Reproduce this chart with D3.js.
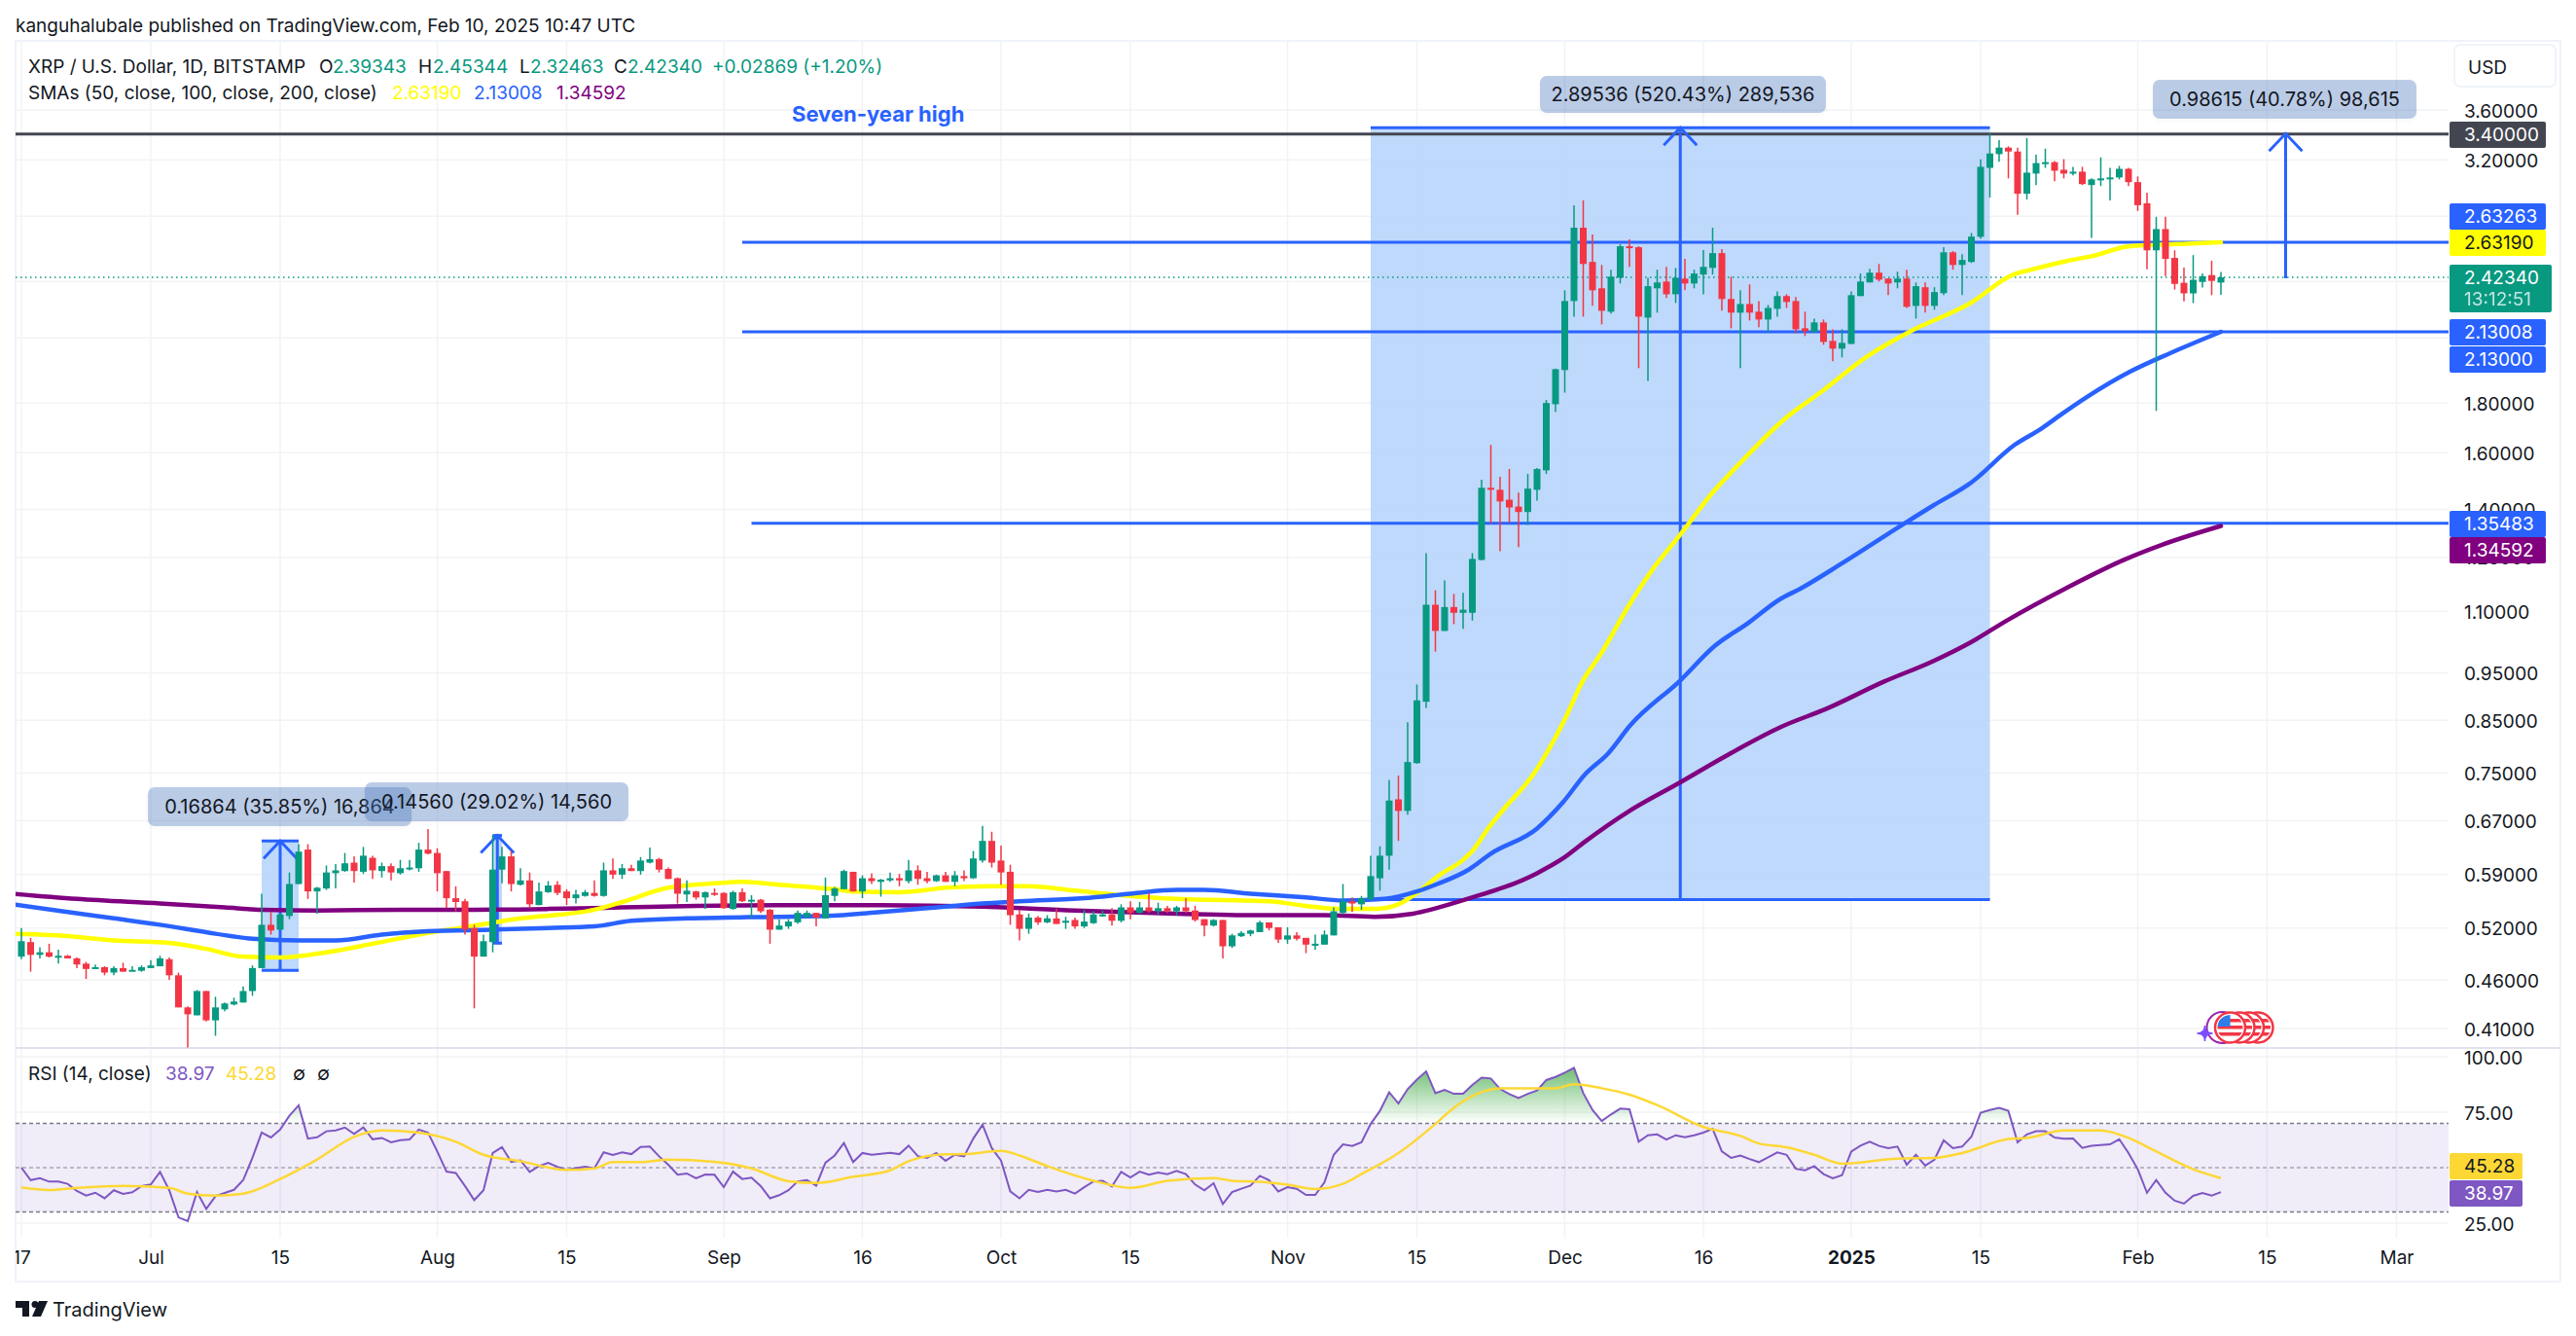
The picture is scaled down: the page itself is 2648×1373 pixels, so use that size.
<!DOCTYPE html>
<html lang="en">
<head>
    <meta charset="UTF-8">
    <title>XRP / U.S. Dollar, 1D, BITSTAMP</title>
    <script src="https://d3js.org/d3.v7.min.js"></script>
    <style>
        html, body { margin: 0; padding: 0; background: #fff; }
        svg { display: block; }
        text { font-family: Inter, "Noto Sans", sans-serif; fill: #131722; }
        .axis text { font-size: 19px; }
        .axis .domain { display: none; }
    </style>
</head>
<body>
<script>
    // candles, one per day from Jun 17 2024
    var firstDay = new Date(Date.UTC(2024, 5, 17));
    var opens = [
        .486,.503,.488,.491,.486,.487,.484,.478,.472,.474,
        .468,.473,.470,.470,.473,.475,.483,.465,.431,.423,
        .448,.418,.429,.434,.436,.448,.473,.524,.518,.535,
        .577,.626,.567,.571,.592,.595,.607,.594,.614,.595,
        .602,.592,.598,.599,.626,.621,.595,.558,.554,.520,
        .486,.503,.597,.616,.576,.582,.549,.566,.576,.567,
        .558,.561,.565,.561,.596,.590,.599,.595,.607,.612,
        .598,.585,.563,.567,.559,.565,.565,.544,.566,.556,
        .556,.543,.518,.522,.527,.534,.539,.532,.561,.570,
        .594,.567,.585,.580,.582,.585,.581,.596,.585,.581,
        .589,.580,.588,.585,.610,.639,.610,.594,.537,.519,
        .533,.527,.532,.527,.530,.522,.526,.536,.537,.529,
        .546,.539,.546,.541,.545,.541,.546,.542,.531,.523,
        .530,.498,.510,.513,.515,.527,.521,.506,.511,.508,
        .500,.500,.511,.539,.554,.550,.557,.585,.617,.705,
        .686,.768,.888,1.117,1.050,1.111,1.096,1.096,1.242,1.473,
        1.466,1.432,1.409,1.391,1.466,1.535,1.795,1.946,2.291,2.725,
        2.513,2.361,2.234,2.421,2.608,2.602,2.203,2.361,2.399,2.328,
        2.416,2.388,2.439,2.478,2.566,2.302,2.229,2.275,2.234,2.193,
        2.249,2.318,2.291,2.148,2.130,2.178,2.085,2.047,2.070,2.318,
        2.394,2.450,2.416,2.394,2.416,2.265,2.367,2.265,2.334,2.571,
        2.495,2.513,2.667,3.139,3.243,3.293,3.263,2.953,3.097,3.175,
        3.182,3.125,3.097,3.111,3.014,3.058,3.055,3.069,3.132,3.035,
        2.887,2.583,2.716,2.537,2.392,2.333,2.397,2.436,2.39343];
    var highs = [
        .520,.508,.497,.501,.494,.488,.485,.480,.477,.475,
        .475,.479,.475,.476,.482,.487,.485,.468,.432,.449,
        .448,.442,.436,.441,.453,.476,.564,.540,.538,.593,
        .634,.634,.573,.603,.605,.621,.616,.630,.617,.607,
        .606,.611,.611,.636,.657,.628,.595,.574,.557,.524,
        .512,.648,.630,.624,.599,.593,.579,.581,.581,.570,
        .569,.569,.582,.607,.613,.605,.604,.615,.629,.614,
        .600,.586,.582,.568,.567,.571,.566,.568,.571,.562,
        .557,.544,.531,.531,.542,.542,.539,.586,.573,.597,
        .594,.589,.592,.584,.593,.591,.611,.603,.594,.590,
        .594,.595,.596,.624,.662,.653,.632,.604,.543,.538,
        .535,.536,.544,.534,.533,.543,.541,.542,.545,.550,
        .554,.553,.565,.552,.548,.548,.558,.548,.531,.531,
        .530,.513,.516,.518,.529,.527,.521,.521,.515,.508,
        .512,.517,.546,.577,.559,.561,.617,.631,.738,.746,
        .846,.925,1.262,1.156,1.183,1.146,1.149,1.262,1.501,1.630,
        1.512,1.540,1.456,1.522,1.543,1.813,1.953,2.350,2.873,2.907,
        2.681,2.495,2.467,2.620,2.650,2.608,2.421,2.467,2.484,2.478,
        2.531,2.467,2.584,2.725,2.590,2.427,2.350,2.383,2.291,2.270,
        2.344,2.328,2.313,2.234,2.198,2.193,2.143,2.143,2.344,2.445,
        2.472,2.501,2.416,2.456,2.467,2.394,2.394,2.367,2.602,2.578,
        2.560,2.691,3.204,3.404,3.353,3.303,3.293,3.369,3.238,3.285,
        3.190,3.204,3.147,3.147,3.062,3.218,3.139,3.154,3.139,3.076,
        2.960,2.796,2.796,2.583,2.480,2.554,2.446,2.520,2.45344];
    var lows = [
        .483,.469,.484,.485,.478,.484,.473,.461,.472,.465,
        .465,.469,.470,.469,.473,.475,.460,.431,.392,.423,
        .417,.403,.427,.433,.436,.443,.473,.512,.518,.531,
        .577,.557,.538,.569,.571,.594,.579,.591,.584,.586,
        .582,.590,.596,.594,.619,.567,.545,.541,.512,.430,
        .486,.491,.578,.567,.575,.545,.549,.565,.562,.549,
        .551,.560,.560,.560,.584,.584,.595,.590,.606,.593,
        .584,.551,.553,.556,.544,.561,.544,.543,.553,.532,
        .539,.501,.518,.519,.525,.532,.522,.532,.554,.570,
        .567,.558,.577,.560,.580,.574,.578,.576,.578,.580,
        .580,.574,.581,.584,.607,.600,.576,.524,.505,.513,
        .524,.526,.525,.519,.519,.520,.525,.534,.523,.527,
        .531,.538,.539,.537,.539,.536,.539,.528,.510,.522,
        .484,.496,.509,.510,.515,.517,.502,.501,.505,.490,
        .494,.500,.511,.537,.540,.543,.555,.568,.597,.639,
        .680,.767,.875,1.000,1.050,1.067,1.055,1.076,1.240,1.353,
        1.268,1.356,1.280,1.349,1.429,1.522,1.763,1.845,2.208,2.208,
        2.265,2.168,2.224,2.388,2.484,1.955,1.897,2.229,2.307,2.281,
        2.350,2.361,2.328,2.439,2.239,2.148,1.955,2.188,2.153,2.128,
        2.208,2.254,2.123,2.109,2.128,2.066,1.987,2.005,2.070,2.318,
        2.394,2.399,2.323,2.361,2.254,2.198,2.229,2.244,2.323,2.467,
        2.323,2.507,2.656,2.927,3.185,3.062,2.809,2.913,3.014,3.139,
        3.042,3.062,3.083,3.014,2.660,3.007,2.907,3.055,3.007,2.835,
        2.469,1.767,2.430,2.354,2.289,2.280,2.365,2.323,2.32463];
    var closes = [
        .504,.488,.491,.486,.487,.484,.477,.472,.474,.468,
        .473,.469,.471,.474,.476,.484,.465,.431,.424,.448,
        .418,.431,.435,.437,.448,.473,.524,.517,.537,.577,
        .623,.567,.572,.593,.596,.606,.595,.617,.596,.602,
        .593,.599,.600,.626,.620,.592,.558,.553,.518,.486,
        .504,.597,.616,.577,.582,.550,.567,.575,.565,.558,
        .563,.566,.561,.596,.590,.599,.595,.610,.612,.597,
        .584,.564,.568,.559,.566,.563,.545,.566,.554,.556,
        .541,.518,.523,.528,.539,.539,.533,.562,.571,.595,
        .567,.585,.581,.583,.585,.582,.596,.584,.581,.589,
        .580,.589,.585,.613,.639,.607,.593,.536,.519,.533,
        .527,.532,.525,.529,.522,.528,.537,.537,.529,.546,
        .539,.546,.541,.545,.541,.546,.541,.530,.523,.530,
        .498,.511,.514,.517,.527,.520,.506,.511,.507,.500,
        .501,.512,.541,.554,.551,.558,.588,.617,.703,.686,
        .770,.891,1.117,1.050,1.111,1.096,1.104,1.245,1.473,1.467,
        1.426,1.406,1.391,1.470,1.540,1.800,1.950,2.291,2.725,2.501,
        2.350,2.239,2.427,2.608,2.596,2.208,2.373,2.394,2.328,2.421,
        2.388,2.445,2.484,2.566,2.302,2.229,2.275,2.229,2.193,2.254,
        2.318,2.286,2.143,2.133,2.178,2.080,2.047,2.075,2.323,2.399,
        2.450,2.410,2.388,2.416,2.260,2.373,2.265,2.340,2.571,2.495,
        2.525,2.668,3.147,3.248,3.293,3.263,2.953,3.104,3.175,3.182,
        3.118,3.097,3.111,3.021,3.055,3.062,3.069,3.132,3.035,2.874,
        2.583,2.716,2.531,2.386,2.333,2.409,2.430,2.403,2.4234];

    // moving averages, read at the bends of each curve (day number, price)
    var sma50Days = [-1,4,10,16,20,24,28,33,38,43,48,54,62,65,70,75,78,82,88,90,95,98,100,105,109,114,119,125,135,139,143,146.4,149,151,153.4,155.9,157,158.7,160.4,163.6,165.7,167.1,168.9,171,173.8,176.6,179.4,182.9,186,190.8,194.6,199.9,204.4,210.8,215.6,217.3,221.2,224.3,227.8,230.8,234.3,238];
    var sma50Values = [.513,.511,.505,.502,.495,.486,.485,.491,.501,.512,.521,.532,.543,.553,.572,.578,.580,.576,.570,.567,.566,.569,.572,.574,.574,.568,.562,.557,.554,.548,.544,.544,.550,.565,.589,.610,.624,.658,.689,.748,.807,.856,.931,.998,1.110,1.218,1.315,1.453,1.563,1.734,1.844,2.015,2.133,2.277,2.441,2.465,2.517,2.551,2.606,2.616,2.624,2.6319];
    var sma100Days = [-1,5,10,15,21,25,30,34,39,44,51,57,62,66,72,82,87,93,98,104,108,115,120,125,128,133,139,143,147.5,151,153.4,156.6,159,164,166.8,169.2,171.7,174.1,179.5,183.2,186.8,190.3,192.4,197,203.6,207,210.8,215.7,218.6,220.8,223.4,228.2,232.5,238];
    var sma100Values = [.550,.540,.532,.524,.513,.507,.505,.505,.512,.516,.518,.520,.522,.529,.532,.534,.535,.540,.545,.551,.554,.558,.564,.569,.569,.564,.559,.555,.557,.567,.578,.597,.620,.658,.700,.748,.786,.840,.934,1.013,1.069,1.132,1.159,1.232,1.351,1.415,1.487,1.631,1.695,1.754,1.823,1.939,2.025,2.13008];
    var sma200Days = [-1,6,15,22,26,32,41,49,57,65,73,82,93,104,114,125,133,141,146.4,150.6,155.9,164,166.8,169.2,173.8,179.4,184,190.3,195.5,201.5,206.8,211,214.9,221.2,227.5,231.7,238];
    var sma200Values = [.564,.557,.551,.546,.543,.542,.543,.543,.544,.546,.548,.549,.549,.547,.542,.538,.536,.536,.534,.538,.555,.592,.613,.638,.684,.733,.777,.836,.875,.931,.977,1.023,1.077,1.161,1.242,1.288,1.34592];

    // RSI, one value per day
    var rsiValues = [
        50.0,44.4,45.3,43.7,43.7,42.7,39.5,37.4,38.7,36.2,
        39.8,38.2,38.9,41.7,42.4,48.1,39.8,27.6,25.9,39.0,
        31.4,37.1,38.6,40.0,44.4,54.4,65.8,63.6,67.2,73.4,
        78.1,63.1,63.7,66.4,66.8,68.1,65.2,68.1,62.8,63.4,
        61.4,62.4,62.7,67.2,65.8,57.3,48.2,47.6,41.7,35.4,
        39.8,56.6,59.3,52.6,53.3,48.1,50.7,52.2,50.4,49.0,
        49.8,50.4,49.7,56.9,55.7,56.9,56.1,59.3,59.5,55.1,
        51.3,46.8,47.4,45.2,46.9,46.8,41.2,48.2,44.9,45.5,
        41.7,36.2,37.6,39.8,43.8,44.4,41.9,52.2,55.5,61.1,
        52.5,56.6,55.8,56.3,56.7,56.1,59.9,55.2,54.4,56.6,
        53.1,55.8,55.1,63.1,69.3,58.8,53.2,39.3,36.2,40.0,
        39.0,40.0,39.3,40.0,38.3,41.2,43.8,44.1,41.5,48.1,
        45.6,48.2,46.8,47.8,47.1,48.5,47.1,42.4,39.8,43.0,
        33.6,39.0,40.5,41.9,46.3,44.4,39.3,41.2,40.5,37.7,
        37.7,43.4,55.8,60.5,59.8,61.4,69.7,75.6,84.0,78.9,
        85.4,89.7,93.4,83.6,85.1,83.3,83.3,87.3,90.6,90.2,
        85.5,83.2,81.4,83.3,84.8,89.5,90.9,92.8,95.0,83.6,
        76.0,71.0,74.0,76.6,76.3,61.7,64.6,65.0,62.7,64.6,
        63.7,64.6,65.8,67.5,57.3,54.4,55.5,53.9,52.5,54.7,
        56.9,55.8,49.5,48.8,50.7,47.1,45.2,46.6,57.3,59.9,
        61.7,59.8,58.8,59.5,51.3,55.8,50.9,53.6,62.3,58.8,
        59.5,63.9,74.8,76.0,77.0,75.6,61.4,65.0,66.4,66.4,
        63.6,63.0,63.1,58.9,59.9,60.2,60.5,62.8,56.6,49.3,
        38.7,44.4,38.7,35.1,33.8,37.3,38.6,37.4,38.97];
    var rsiMaDays = [0,3,6,11,16,18,21,24,28,32,36,39,43,47,50,54,59,62,64,67,70,75,79,83,86,90,94,96,100,102,106,108,111,116,120,124,129,131,134,137,140,143,145,149,153,155,160,166,168,171,174,177,182,186,188,191,194,197,203,207,210,215,217,221,225,228,231,235,238];
    var rsiMaValues = [41.1,39.9,40.9,41.8,40.9,38.3,37.4,38.3,44.9,53.7,63.9,66.8,65.8,61.7,55.8,52.9,49.0,49.7,52.5,52.5,53.6,52.6,49.7,43.9,43.1,45.9,48.8,52.9,56.0,56.1,57.6,55.5,50.7,44.1,40.9,44.1,45.3,44.1,43.6,42.3,40.4,42.7,47.1,56.6,69.7,77.0,85.7,85.8,87.6,85.8,82.9,78.2,68.3,64.3,60.9,59.2,55.8,51.8,54.1,54.4,56.6,62.9,63.4,66.8,66.8,63.4,57.3,49.3,45.28];

    // axis ticks, the three in coveredTicks sit fully behind price badges
    var priceTicks = [3.6,3.2,2.8,2.4,2.1,1.8,1.6,1.4,1.25,1.1,.95,.85,.75,.67,.59,.52,.46,.41];
    var coveredTicks = [2.8,2.4,2.1];
    var rsiTicks = [100,75,25];
    var timeTicks = ['2024-06-17','2024-07-01','2024-07-15','2024-08-01','2024-08-15','2024-09-01','2024-09-16','2024-10-01','2024-10-15','2024-11-01','2024-11-15','2024-12-01','2024-12-16','2025-01-01','2025-01-15','2025-02-01','2025-02-15','2025-03-01'];
    var timeLabels = ['17','Jul','15','Aug','15','Sep','16','Oct','15','Nov','15','Dec','16','2025','15','Feb','15','Mar'];

    // price lines on the chart: [price, first day]
    var levelPrices = [2.63263,2.13,1.35483];
    var levelStartDays = [78,78,79];
    var topLevel = 3.4;
    var lastPrice = 2.4234;

    // measured ranges: [low, high, first day, last day]
    var rangeLows = [.5563,.4704,.5017,2.418];
    var rangeHighs = [3.4517,.639,.6473,3.404];
    var rangeStarts = [146,26,51,245];
    var rangeEnds = [213,30,52,245];
    var eventDays = [242,241,240,239];

    var width = 2648, height = 1373;
    var paneLeft = 16, paneRight = 2517, frameRight = 2632;
    var frameTop = 42, mainBottom = 1077, rsiBottom = 1272, frameBottom = 1317;
    var axisX = 2533;
    var green = '#089981', red = '#f23645', blue = '#2962ff', purple = '#800080', sun = '#ffff00', dark = '#434651';
    var rsiPurple = '#7e57c2', rsiYellow = '#fdd835';
    var gridColor = '#f2f3f6';

    var x = d3.scaleUtc()
        .domain([firstDay, new Date(Date.UTC(2025, 2, 1))])
        .range([22, 22 + 257 * 9.5]);
    var y = d3.scaleLog().domain([3.6, .41]).range([113, 1057]);
    var rsiY = d3.scaleLinear().domain([100, 25]).range([1086, 1257]);

    function dayX(i) { return x(new Date(firstDay.getTime() + i * 864e5)); }

    var svg = d3.select('body').append('svg')
        .attr('width', width)
        .attr('height', height);
    var defs = svg.append('defs');

    defs.append('clipPath').attr('id', 'mainClip').append('rect')
        .attr('x', paneLeft).attr('y', frameTop)
        .attr('width', paneRight - paneLeft).attr('height', mainBottom - frameTop);
    defs.append('clipPath').attr('id', 'rsiClip').append('rect')
        .attr('x', paneLeft).attr('y', mainBottom)
        .attr('width', paneRight - paneLeft).attr('height', rsiBottom - mainBottom);
    defs.append('clipPath').attr('id', 'overClip').append('rect')
        .attr('x', paneLeft).attr('y', mainBottom)
        .attr('width', paneRight - paneLeft).attr('height', rsiY(70) - mainBottom);
    defs.append('clipPath').attr('id', 'timeClip').append('rect')
        .attr('x', paneLeft).attr('y', rsiBottom)
        .attr('width', paneRight - paneLeft).attr('height', frameBottom - rsiBottom);

    var grad = defs.append('linearGradient').attr('id', 'overGrad')
        .attr('gradientUnits', 'userSpaceOnUse')
        .attr('x1', 0).attr('x2', 0).attr('y1', rsiY(95)).attr('y2', rsiY(70));
    grad.append('stop').attr('offset', 0).attr('stop-color', '#4caf50').attr('stop-opacity', .8);
    grad.append('stop').attr('offset', 1).attr('stop-color', '#4caf50').attr('stop-opacity', 0);

    var shadow = defs.append('filter').attr('id', 'soft')
        .attr('x', '-5%').attr('y', '-20%').attr('width', '110%').attr('height', '150%');
    shadow.append('feDropShadow').attr('dx', 0).attr('dy', 2).attr('stdDeviation', 2)
        .attr('flood-color', '#000').attr('flood-opacity', .08);

    // grid
    var grid = svg.append('g').attr('stroke', gridColor).attr('stroke-width', 1.5);
    grid.selectAll('.v').data(timeTicks).enter().append('line')
        .attr('x1', function (d) { return x(new Date(d)); })
        .attr('x2', function (d) { return x(new Date(d)); })
        .attr('y1', frameTop).attr('y2', rsiBottom);
    grid.selectAll('.h').data(priceTicks).enter().append('line')
        .attr('x1', paneLeft).attr('x2', paneRight)
        .attr('y1', y).attr('y2', y);
    grid.selectAll('.r').data(rsiTicks).enter().append('line')
        .attr('x1', paneLeft).attr('x2', paneRight)
        .attr('y1', rsiY).attr('y2', rsiY);

    // frame
    var frame = svg.append('g').attr('stroke', '#f0f3fa').attr('stroke-width', 2).attr('fill', 'none');
    frame.append('rect').attr('x', paneLeft).attr('y', frameTop)
        .attr('width', frameRight - paneLeft).attr('height', frameBottom - frameTop);
    svg.append('line').attr('x1', paneLeft).attr('x2', frameRight)
        .attr('y1', mainBottom).attr('y2', mainBottom)
        .attr('stroke', '#e0e3eb').attr('stroke-width', 2);

    var main = svg.append('g').attr('clip-path', 'url(#mainClip)');

    // shaded ranges
    main.selectAll('.range').data([0, 1, 2]).enter().append('rect')
        .attr('x', function (k) { return dayX(rangeStarts[k]); })
        .attr('width', function (k) { return dayX(rangeEnds[k]) - dayX(rangeStarts[k]); })
        .attr('y', function (k) { return y(rangeHighs[k]); })
        .attr('height', function (k) { return y(rangeLows[k]) - y(rangeHighs[k]); })
        .attr('fill', '#b9d6fb')
        .attr('fill-opacity', .92);

    // horizontal levels
    main.selectAll('.level').data(levelPrices).enter().append('line')
        .attr('x1', function (d, i) { return dayX(levelStartDays[i]); })
        .attr('x2', paneRight)
        .attr('y1', y).attr('y2', y)
        .attr('stroke', blue).attr('stroke-width', 3);
    main.append('line')
        .attr('x1', paneLeft).attr('x2', paneRight)
        .attr('y1', y(topLevel)).attr('y2', y(topLevel))
        .attr('stroke', dark).attr('stroke-width', 3);
    main.append('line')
        .attr('x1', paneLeft).attr('x2', paneRight)
        .attr('y1', y(lastPrice)).attr('y2', y(lastPrice))
        .attr('stroke', green).attr('stroke-width', 1.5)
        .attr('stroke-dasharray', '1.5 3.5');

    // range arrows
    rangeLows.forEach(function (low, k) {
        var g = main.append('g').attr('stroke', blue).attr('stroke-width', 3).attr('fill', 'none');
        var ax = (dayX(rangeStarts[k]) + dayX(rangeEnds[k])) / 2;
        var top = y(rangeHighs[k]), bottom = y(low);
        g.append('line').attr('x1', ax).attr('x2', ax).attr('y1', top).attr('y2', bottom);
        g.append('path').attr('d', d3.line()([[ax - 17, top + 18], [ax, top], [ax + 17, top + 18]]));
        if (rangeStarts[k] != rangeEnds[k]) {
            [top, bottom].forEach(function (cap) {
                g.append('line')
                    .attr('x1', dayX(rangeStarts[k])).attr('x2', dayX(rangeEnds[k]))
                    .attr('y1', cap).attr('y2', cap);
            });
        }
    });

    // SMAs
    function drawSma(days, values, color) {
        var line = d3.line()
            .x(function (d) { return dayX(d); })
            .y(function (d, i) { return y(values[i]); })
            .curve(d3.curveMonotoneX);
        main.append('path').attr('d', line(days))
            .attr('fill', 'none').attr('stroke', color).attr('stroke-width', 4.5).attr('stroke-linecap', 'round');
    }
    drawSma(sma200Days, sma200Values, purple);
    drawSma(sma50Days, sma50Values, sun);
    drawSma(sma100Days, sma100Values, blue);

    // candles
    var candles = main.selectAll('.candle').data(opens).enter().append('g');
    function candleColor(d, i) { return closes[i] >= d ? green : red; }
    candles.append('line')
        .attr('x1', function (d, i) { return dayX(i); })
        .attr('x2', function (d, i) { return dayX(i); })
        .attr('y1', function (d, i) { return y(highs[i]); })
        .attr('y2', function (d, i) { return y(lows[i]); })
        .attr('stroke', candleColor).attr('stroke-width', 1.5);
    candles.append('rect')
        .attr('x', function (d, i) { return dayX(i) - 3.5; })
        .attr('width', 7)
        .attr('y', function (d, i) { return y(Math.max(d, closes[i])); })
        .attr('height', function (d, i) { return Math.max(2, Math.abs(y(d) - y(closes[i]))); })
        .attr('fill', candleColor);

    // callouts
    function callout(bx, by, bw, bh, label) {
        svg.append('rect').attr('x', bx).attr('y', by).attr('width', bw).attr('height', bh)
            .attr('rx', 7).attr('fill', 'rgb(70,120,190)').attr('fill-opacity', .36)
            .attr('filter', 'url(#soft)');
        svg.append('text').attr('x', bx + bw / 2).attr('y', by + bh / 2 + 7)
            .attr('text-anchor', 'middle').attr('font-size', 20).text(label);
    }
    callout(1583, 78, 294, 38, '2.89536 (520.43%) 289,536');
    callout(2213, 82, 271, 40, '0.98615 (40.78%) 98,615');
    callout(152, 809, 271, 40, '0.16864 (35.85%) 16,864');
    callout(375, 804, 271, 40, '0.14560 (29.02%) 14,560');

    svg.append('text').attr('x', 814).attr('y', 125)
        .attr('font-size', 22).attr('font-weight', 700)
        .style('fill', blue).text('Seven-year high');

    // event markers
    var events = svg.append('g');
    events.append('circle').attr('cx', dayX(239) - 8).attr('cy', y(.41) - 1).attr('r', 16)
        .attr('fill', '#fff').attr('stroke', '#9c27b0').attr('stroke-width', 2);
    var sx = dayX(239) - 26, sy = y(.41) + 5;
    events.append('path')
        .attr('d', 'M' + sx + ',' + (sy - 8) + 'Q' + sx + ',' + sy + ' ' + (sx + 8) + ',' + sy +
            'Q' + sx + ',' + sy + ' ' + sx + ',' + (sy + 8) + 'Q' + sx + ',' + sy + ' ' + (sx - 8) + ',' + sy +
            'Q' + sx + ',' + sy + ' ' + sx + ',' + (sy - 8) + 'Z')
        .attr('fill', '#7c4dff').attr('stroke', '#7c4dff').attr('stroke-width', 1.5);
    eventDays.forEach(function (day, k) {
        var cx = dayX(day), cy = y(.41) - 1;
        var id = 'flag' + k;
        defs.append('clipPath').attr('id', id).append('circle').attr('cx', cx).attr('cy', cy).attr('r', 13);
        events.append('circle').attr('cx', cx).attr('cy', cy).attr('r', 15.5)
            .attr('fill', '#fff').attr('stroke', red).attr('stroke-width', 2.5);
        var flag = events.append('g').attr('clip-path', 'url(#' + id + ')');
        [-9, -2, 5].forEach(function (dy) {
            flag.append('rect').attr('x', cx - 14).attr('y', cy + dy).attr('width', 28).attr('height', 3.5).attr('fill', red);
        });
        flag.append('rect').attr('x', cx - 14).attr('y', cy - 14).attr('width', 14).attr('height', 13).attr('fill', '#2d7dea');
    });

    // RSI pane
    var rsi = svg.append('g');
    rsi.append('rect').attr('x', paneLeft).attr('width', paneRight - paneLeft)
        .attr('y', rsiY(70)).attr('height', rsiY(30) - rsiY(70))
        .attr('fill', rsiPurple).attr('fill-opacity', .115);
    [70, 50, 30].forEach(function (v) {
        rsi.append('line').attr('x1', paneLeft).attr('x2', paneRight)
            .attr('y1', rsiY(v)).attr('y2', rsiY(v))
            .attr('stroke', '#787b86').attr('stroke-width', 1.5)
            .attr('stroke-opacity', v == 50 ? .6 : 1)
            .attr('stroke-dasharray', '4 3');
    });
    var overArea = d3.area()
        .x(function (d, i) { return dayX(i); })
        .y0(rsiY(70))
        .y1(function (d) { return rsiY(d); });
    rsi.append('path').attr('d', overArea(rsiValues))
        .attr('fill', 'url(#overGrad)').attr('clip-path', 'url(#overClip)');
    var rsiLine = d3.line()
        .x(function (d, i) { return dayX(i); })
        .y(function (d) { return rsiY(d); });
    var maLine = d3.line()
        .x(function (d) { return dayX(d); })
        .y(function (d, i) { return rsiY(rsiMaValues[i]); })
        .curve(d3.curveMonotoneX);
    rsi.append('path').attr('d', rsiLine(rsiValues))
        .attr('fill', 'none').attr('stroke', rsiPurple).attr('stroke-width', 2)
        .attr('clip-path', 'url(#rsiClip)');
    rsi.append('path').attr('d', maLine(rsiMaDays))
        .attr('fill', 'none').attr('stroke', rsiYellow).attr('stroke-width', 2.5)
        .attr('clip-path', 'url(#rsiClip)');

    // axes
    svg.append('g').attr('class', 'axis')
        .attr('transform', 'translate(' + axisX + ',1)')
        .call(d3.axisRight(y).tickValues(priceTicks).tickSize(0).tickPadding(0)
            .tickFormat(function (d) { return coveredTicks.indexOf(d) >= 0 ? '' : d3.format('.5f')(d); }));
    svg.append('g').attr('class', 'axis')
        .attr('transform', 'translate(' + axisX + ',1)')
        .call(d3.axisRight(rsiY).tickValues(rsiTicks).tickSize(0).tickPadding(0).tickFormat(d3.format('.2f')));
    var timeWrap = svg.append('g').attr('clip-path', 'url(#timeClip)');
    var timeAxis = timeWrap.append('g').attr('class', 'axis')
        .attr('transform', 'translate(0,' + rsiBottom + ')')
        .call(d3.axisBottom(x)
            .tickValues(timeTicks.map(function (d) { return new Date(d); }))
            .tickSize(0).tickPadding(14)
            .tickFormat(function (d, i) { return timeLabels[i]; }));
    timeAxis.selectAll('.tick text')
        .attr('font-weight', function (d, i) { return timeLabels[i] == '2025' ? 700 : 400; });

    // price badges
    var badgeLabels = ['3.40000','2.63263','2.63190','2.13008','2.13000','1.35483','1.34592'];
    var badgeFills = [dark, blue, sun, blue, blue, blue, purple];
    var badgeTexts = ['#fff','#fff','#131722','#fff','#fff','#fff','#fff'];
    var badgeTops = [125,209,236,328,356,525,552];
    badgeLabels.forEach(function (label, i) {
        svg.append('rect').attr('x', 2518).attr('y', badgeTops[i]).attr('width', 99).attr('height', 27)
            .attr('rx', 2).attr('fill', badgeFills[i]);
        svg.append('text').attr('x', axisX).attr('y', badgeTops[i] + 20)
            .attr('font-size', 19).style('fill', badgeTexts[i]).text(label);
    });
    svg.append('rect').attr('x', 2518).attr('y', 272).attr('width', 105).attr('height', 49)
        .attr('rx', 2).attr('fill', green);
    svg.append('text').attr('x', axisX).attr('y', 292).attr('font-size', 19).style('fill', '#fff').text('2.42340');
    svg.append('text').attr('x', axisX).attr('y', 314).attr('font-size', 19).style('fill', '#fff').style('opacity', .75).text('13:12:51');

    svg.append('rect').attr('x', 2518).attr('y', 1185).attr('width', 75).attr('height', 27).attr('rx', 2).attr('fill', rsiYellow);
    svg.append('text').attr('x', axisX).attr('y', 1205).attr('font-size', 19).text('45.28');
    svg.append('rect').attr('x', 2518).attr('y', 1213).attr('width', 75).attr('height', 27).attr('rx', 2).attr('fill', rsiPurple);
    svg.append('text').attr('x', axisX).attr('y', 1233).attr('font-size', 19).style('fill', '#fff').text('38.97');

    // currency button
    svg.append('rect').attr('x', 2523).attr('y', 46).attr('width', 104).attr('height', 43)
        .attr('rx', 6).attr('fill', '#fff').attr('stroke', '#f0f3fa').attr('stroke-width', 2);
    svg.append('text').attr('x', 2537).attr('y', 76).attr('font-size', 19).text('USD');

    // header and legends
    function legend(tx, ty, color, label, size) {
        svg.append('text').attr('x', tx).attr('y', ty)
            .attr('font-size', size || 19)
            .style('fill', color).text(label);
    }
    legend(16, 33, '#131722', 'kanguhalubale published on TradingView.com, Feb 10, 2025 10:47 UTC');

    var ohlcNames = ['O','H','L','C'];
    var ohlcNameX = [328,430,534,631];
    var ohlcValueX = [342,445,545,645];
    var ohlcLast = [opens[238], highs[238], lows[238], closes[238]];
    legend(29, 75, '#131722', 'XRP / U.S. Dollar, 1D, BITSTAMP');
    ohlcNames.forEach(function (n, i) {
        legend(ohlcNameX[i], 75, '#131722', n);
        legend(ohlcValueX[i], 75, green, d3.format('.5f')(ohlcLast[i]));
    });
    legend(732, 75, green, '+0.02869 (+1.20%)');
    legend(29, 102, '#131722', 'SMAs (50, close, 100, close, 200, close)');
    legend(403, 102, sun, '2.63190');
    legend(487, 102, blue, '2.13008');
    legend(572, 102, purple, '1.34592');
    legend(29, 1110, '#131722', 'RSI (14, close)');
    legend(170, 1110, rsiPurple, '38.97');
    legend(232, 1110, rsiYellow, '45.28');
    legend(301, 1110, '#131722', '∅');
    legend(326, 1110, '#131722', '∅');

    // TradingView mark
    var logo = svg.append('g').attr('transform', 'translate(16,1337)').attr('fill', '#131722');
    logo.append('path').attr('d', 'M0,0H14V16H7V7H0Z');
    logo.append('circle').attr('cx', 20).attr('cy', 3.5).attr('r', 3.5);
    logo.append('path').attr('d', 'M24,0H33L26,16H17Z');
    legend(54, 1353, '#131722', 'TradingView', 20);
</script>
</body>
</html>
